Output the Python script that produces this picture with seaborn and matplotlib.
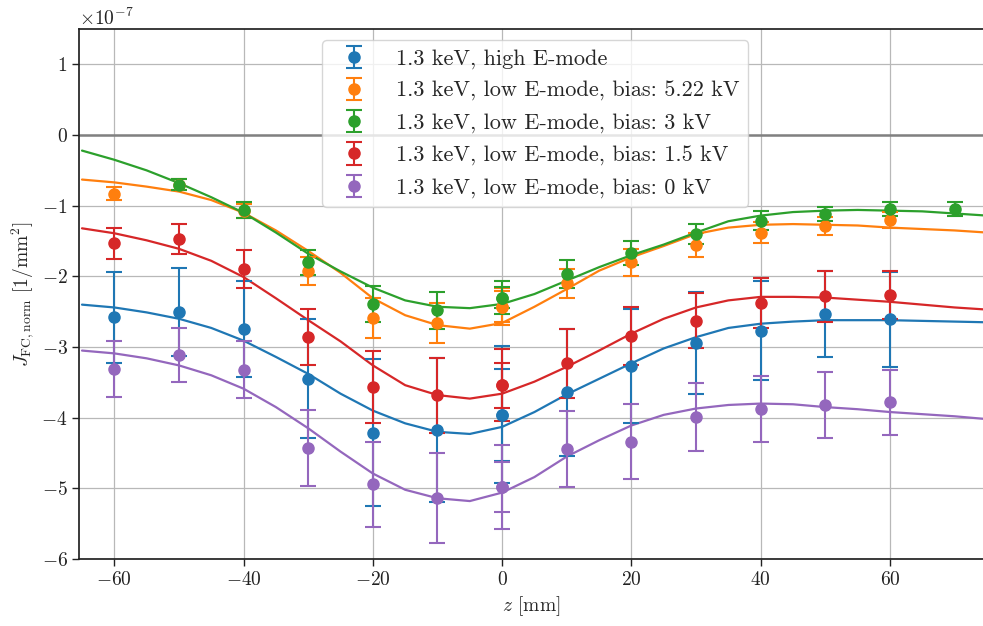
import numpy as np
import pandas as pd
import matplotlib
matplotlib.use("Agg")
import matplotlib.pyplot as plt
import seaborn as sns

# Faraday-cup current density profiles along z (values in units of 1e-7 1/mm^2)
SCALE = 1e-7

labels = [
    "1.3 keV, high E-mode",
    "1.3 keV, low E-mode, bias: 5.22 kV",
    "1.3 keV, low E-mode, bias: 3 kV",
    "1.3 keV, low E-mode, bias: 1.5 kV",
    "1.3 keV, low E-mode, bias: 0 kV",
]

# measured points (z = 0 was measured twice)
z_std = [-60, -50, -40, -30, -20, -10, 0, 0, 10, 20, 30, 40, 50, 60]
z_green = [-50, -40, -30, -20, -10, 0, 0, 10, 20, 30, 40, 50, 60, 70]

j_high = [-2.58, -2.50, -2.75, -3.45, -4.21, -4.18, -3.96, -3.96, -3.64, -3.27, -2.94, -2.77, -2.53, -2.61]
e_high = [0.64, 0.62, 0.68, 0.84, 1.04, 1.02, 0.97, 0.65, 0.90, 0.81, 0.72, 0.70, 0.61, 0.67]

j_522 = [-0.83, -0.70, -1.08, -1.92, -2.59, -2.66, -2.43, -2.43, -2.10, -1.80, -1.55, -1.38, -1.29, -1.20]
e_522 = [0.09, 0.08, 0.10, 0.20, 0.28, 0.28, 0.26, 0.22, 0.21, 0.19, 0.17, 0.15, 0.13, 0.11]

j_3 = [-0.70, -1.06, -1.80, -2.39, -2.48, -2.30, -2.30, -1.97, -1.67, -1.40, -1.21, -1.12, -1.05, -1.05]
e_3 = [0.08, 0.11, 0.18, 0.25, 0.26, 0.23, 0.15, 0.20, 0.17, 0.14, 0.13, 0.10, 0.10, 0.10]

j_15 = [-1.53, -1.47, -1.89, -2.86, -3.56, -3.68, -3.54, -3.54, -3.23, -2.84, -2.63, -2.38, -2.28, -2.27]
e_15 = [0.22, 0.21, 0.27, 0.40, 0.51, 0.53, 0.51, 0.32, 0.49, 0.41, 0.39, 0.35, 0.36, 0.34]

j_0 = [-3.31, -3.11, -3.32, -4.43, -4.94, -5.14, -4.98, -4.98, -4.44, -4.34, -3.99, -3.88, -3.82, -3.78]
e_0 = [0.40, 0.38, 0.40, 0.54, 0.60, 0.64, 0.60, 0.36, 0.54, 0.53, 0.48, 0.47, 0.47, 0.46]

# fitted profiles
z_fit = [-65, -60, -55, -50, -45, -40, -35, -30, -25, -20, -15, -10, -5, 0, 5,
         10, 15, 20, 25, 30, 35, 40, 45, 50, 55, 60, 65, 70, 75]
fit_high = [-2.40, -2.44, -2.51, -2.60, -2.73, -2.91, -3.14, -3.38, -3.66, -3.90, -4.08, -4.20, -4.23, -4.13, -3.92,
            -3.67, -3.45, -3.23, -3.02, -2.86, -2.73, -2.67, -2.64, -2.62, -2.62, -2.62, -2.63, -2.64, -2.65]
fit_522 = [-0.63, -0.67, -0.73, -0.80, -0.92, -1.10, -1.35, -1.64, -1.95, -2.31, -2.55, -2.69, -2.74, -2.66, -2.43,
           -2.18, -1.92, -1.73, -1.57, -1.40, -1.31, -1.27, -1.26, -1.27, -1.28, -1.31, -1.33, -1.35, -1.38]
fit_3 = [-0.22, -0.35, -0.50, -0.68, -0.88, -1.10, -1.38, -1.68, -1.93, -2.16, -2.34, -2.43, -2.45, -2.39, -2.25,
         -2.06, -1.87, -1.70, -1.55, -1.38, -1.22, -1.14, -1.09, -1.07, -1.06, -1.07, -1.08, -1.11, -1.14]
fit_15 = [-1.32, -1.39, -1.49, -1.61, -1.78, -2.01, -2.31, -2.62, -2.92, -3.26, -3.54, -3.68, -3.73, -3.66, -3.49,
          -3.28, -3.05, -2.81, -2.60, -2.44, -2.34, -2.29, -2.29, -2.30, -2.33, -2.36, -2.40, -2.44, -2.47]
fit_0 = [-3.05, -3.09, -3.16, -3.26, -3.40, -3.59, -3.85, -4.15, -4.48, -4.79, -5.02, -5.14, -5.18, -5.06, -4.84,
         -4.55, -4.32, -4.11, -3.96, -3.87, -3.82, -3.80, -3.81, -3.85, -3.88, -3.92, -3.95, -3.98, -4.02]

sns.set_theme(style="ticks")
plt.rcParams.update({
    "font.family": "serif",
    "font.serif": ["cmr10"],
    "mathtext.fontset": "cm",
    "axes.formatter.use_mathtext": True,
    "font.size": 14,
    "axes.edgecolor": "#222222",
    "xtick.color": "#222222",
    "ytick.color": "#222222",
})

colors = sns.color_palette("tab10", 5)

fig = plt.figure(figsize=(9.83, 6.26), dpi=100)
ax = fig.add_axes([0.0808, 0.107, 0.9192, 0.8466])

ax.axhline(0, color="#808080", lw=1.8, zorder=1)

series = [
    (z_std, j_high, e_high, fit_high),
    (z_std, j_522, e_522, fit_522),
    (z_green, j_3, e_3, fit_3),
    (z_std, j_15, e_15, fit_15),
    (z_std, j_0, e_0, fit_0),
]

for (zs, js, es, fit), lab, col in zip(series, labels, colors):
    ax.errorbar(zs, np.array(js) * SCALE, yerr=np.array(es) * SCALE, fmt="o", ms=8,
                color=col, ecolor=col, elinewidth=1.5, capsize=5.5, capthick=1.5,
                label=lab, zorder=3)
    df = pd.DataFrame({"z": z_fit, "J": np.array(fit) * SCALE})
    sns.lineplot(data=df, x="z", y="J", color=col, lw=1.6, ax=ax, legend=False, zorder=2)

ax.set_xlim(-65.4, 74.4)
ax.set_ylim(-6e-7, 1.5e-7)
ax.set_xticks([-60, -40, -20, 0, 20, 40, 60])
ax.set_yticks(np.arange(-6, 2) * SCALE)
ax.grid(True, color="#b8b8b8", lw=0.9)
ax.set_axisbelow(True)
ax.spines["right"].set_visible(False)
ax.tick_params(direction="out", length=5, width=1, labelsize=14)
ax.yaxis.get_offset_text().set_fontsize(14)

ax.set_xlabel(r"$z$ [mm]", fontsize=14)
ax.set_ylabel(r"$J_{\rm FC,norm}$ [1/mm$^2$]", fontsize=14)

ax.legend(loc="upper left", bbox_to_anchor=(0.269, 0.979), borderaxespad=0,
          fontsize=16, frameon=True, framealpha=0.8, edgecolor="#cccccc",
          handletextpad=0.9, labelspacing=0.55)

fig.savefig("out.png", dpi=100)
